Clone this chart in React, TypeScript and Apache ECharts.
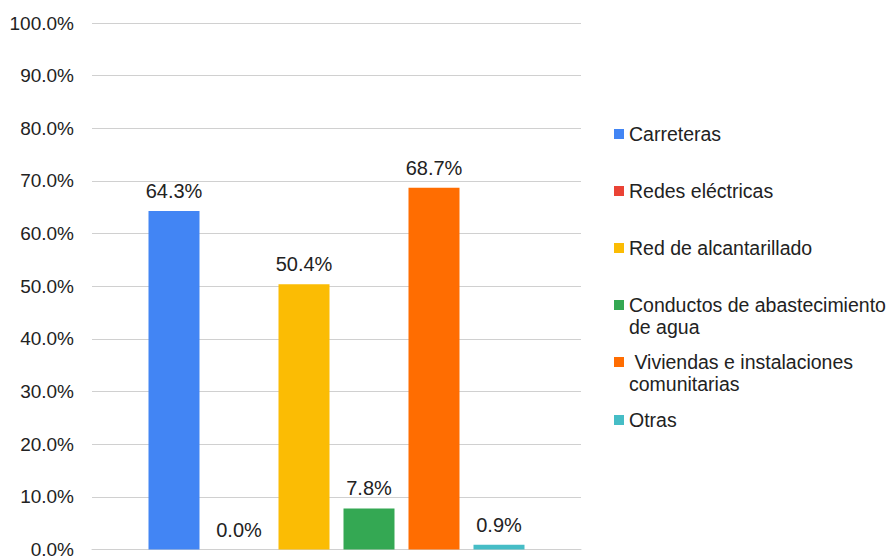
import React, { useEffect, useRef } from "react";
import * as echarts from "echarts";

const seriesNames = [
  "Carreteras",
  "Redes eléctricas",
  "Red de alcantarillado",
  "Conductos de abastecimiento\nde agua",
  " Viviendas e instalaciones\ncomunitarias",
  "Otras",
];
const seriesValues = [64.3, 0.0, 50.4, 7.8, 68.7, 0.9];
const seriesColors = ["#4285F4", "#EA4335", "#FBBC04", "#34A853", "#FF6D01", "#46BDC6"];
const categories = [""];
const legendTops = [134, 191, 248, 305, 362, 420];

const FONT = "'Liberation Sans', Arial, sans-serif";
const TEXT = "#222222";

export default function App() {
  const ref = useRef<HTMLDivElement>(null);
  useEffect(() => {
    if (!ref.current) return;
    const chart = echarts.init(ref.current, undefined, { renderer: "svg" });
    const series = seriesNames.map((name, i) => ({
      name,
      type: "bar" as const,
      data: [seriesValues[i]],
      barWidth: 51,
      barGap: "27.45%",
      itemStyle: { color: seriesColors[i] },
      label: {
        show: true,
        position: "top" as const,
        distance: 10,
        formatter: (p: any) => `${Number(p.value).toFixed(1)}%`,
        color: TEXT,
        fontSize: 20,
        fontFamily: FONT,
      },
    }));
    const legends = seriesNames.map((name, i) => {
      const twoLine = name.includes("\n");
      return {
        show: true,
        orient: "vertical" as const,
        left: 609,
        top: twoLine ? legendTops[i] - 38 : legendTops[i] - 16,
        padding: 5,
        itemWidth: 10,
        itemHeight: 10,
        icon: "rect",
        data: [name],
        selectedMode: false,
        formatter: (n: string) => (twoLine ? "\n" + n : n),
        textStyle: {
          color: TEXT,
          fontSize: 19.5,
          fontFamily: FONT,
          lineHeight: 22,
        },
      };
    });
    chart.setOption({
      animation: false,
      textStyle: { fontFamily: FONT },
      grid: { left: 92, right: 313, top: 23, bottom: 7, containLabel: false },
      legend: legends,
      xAxis: {
        type: "category",
        data: categories,
        axisLine: { show: true, lineStyle: { color: "#d0d0d0" } },
        axisTick: { show: false },
        axisLabel: { show: false },
      },
      yAxis: {
        type: "value",
        min: 0,
        max: 100,
        interval: 10,
        axisLine: { show: false },
        axisTick: { show: false },
        splitLine: { lineStyle: { color: "#d0d0d0", width: 1 } },
        axisLabel: {
          margin: 18,
          color: TEXT,
          fontSize: 19,
          fontFamily: FONT,
          formatter: (v: number) => `${v.toFixed(1)}%`,
        },
      },
      series,
    });
    return () => chart.dispose();
  }, []);
  return <div ref={ref} style={{ width: 894, height: 559, position: "absolute", left: 0, top: 0 }} />;
}
